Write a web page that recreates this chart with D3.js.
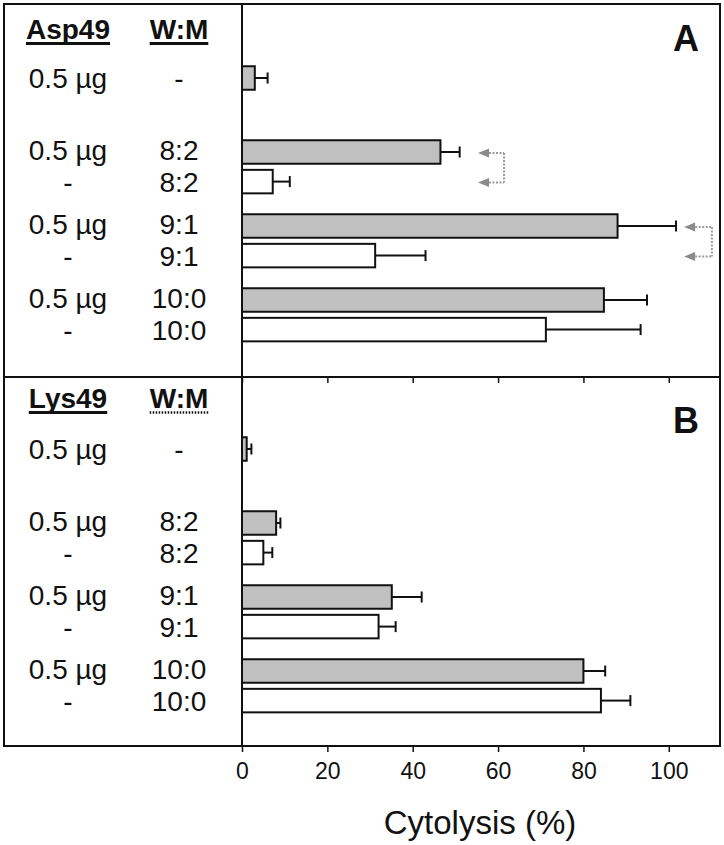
<!DOCTYPE html>
<html>
<head>
<meta charset="utf-8">
<script src="https://cdn.jsdelivr.net/npm/d3@7"></script>
<style>
  html, body { margin: 0; padding: 0; background: #fff; }
  svg { display: block; font-family: "Liberation Sans", Arial, sans-serif; }
</style>
</head>
<body>
<svg id="chart" width="724" height="845"></svg>
<script>
// ---- data ----
const toxinLabels = ["0.5 \u00B5g", "0.5 \u00B5g", "-", "0.5 \u00B5g", "-", "0.5 \u00B5g", "-"];
const wmLabels    = ["-", "8:2", "8:2", "9:1", "9:1", "10:0", "10:0"];
const groupIndex  = [0, 1, 1, 2, 2, 3, 3];
const withinGroup = [0, 0, 1, 0, 1, 0, 1];
const hasToxin    = [true, true, false, true, false, true, false];

const asp49Values = [3, 46.5, 7.2, 88, 31.2, 84.8, 71.2];
const asp49Errors = [3, 4.5, 4, 13.7, 11.8, 10.1, 22.2];
const lys49Values = [1.1, 8, 5, 35.1, 32, 80, 84.1];
const lys49Errors = [1.1, 1, 2.1, 7, 4, 5.1, 6.9];

const xTicks = [0, 20, 40, 60, 80, 100];
const panels = [
  { letter: "A", protein: "Asp49", values: asp49Values, errors: asp49Errors, dottedWM: false },
  { letter: "B", protein: "Lys49", values: lys49Values, errors: lys49Errors, dottedWM: true }
];
// comparison arrows in panel A: [row from, row to, x tip (data units), x bracket (data units)]
const arrowsA = [[1, 2, 55.3, 61.4], [3, 4, 103.6, 110.1]];

// ---- layout ----
const svg = d3.select("#chart");
const frameLeft = 4, plotLeft = 242, frameRight = 720, frameTop = 4;
const panelTops = [4, 377];
const panelBottoms = [377, 746];
const firstCenter = [78, 449];
const slotPitch = 29.6;
const barH = 23.5;

const x = d3.scaleLinear().domain([0, 112]).range([plotLeft, frameRight]);

panels.forEach((p, pi) => {
  const y = d3.scaleLinear().domain([0, 1]).range([firstCenter[pi], firstCenter[pi] + slotPitch]);
  const slot = i => 2.5 * groupIndex[i] + withinGroup[i];
  const g = svg.append("g");

  // bars
  g.selectAll("rect.bar").data(p.values).join("rect")
    .attr("class", "bar")
    .attr("x", x(0))
    .attr("y", (d, i) => y(slot(i)) - barH / 2)
    .attr("width", d => x(d) - x(0))
    .attr("height", barH)
    .attr("fill", (d, i) => hasToxin[i] ? "#c0c0c0" : "#ffffff")
    .attr("stroke", "#111")
    .attr("stroke-width", 2);

  // error bars
  p.values.forEach((v, i) => {
    const cy = y(slot(i));
    g.append("line").attr("x1", x(v)).attr("x2", x(v + p.errors[i]))
      .attr("y1", cy).attr("y2", cy).attr("stroke", "#111").attr("stroke-width", 2);
    g.append("line").attr("x1", x(v + p.errors[i])).attr("x2", x(v + p.errors[i]))
      .attr("y1", cy - 5.5).attr("y2", cy + 5.5).attr("stroke", "#111").attr("stroke-width", 2);
  });

  // left labels
  toxinLabels.forEach((t, i) => {
    const cy = y(slot(i)) + (withinGroup[i] === 0 && groupIndex[i] > 0 ? -2 : 0);
    g.append("text").attr("x", 68).attr("y", cy + 10).attr("text-anchor", "middle")
      .attr("font-size", 28).attr("fill", "#111").text(t);
    g.append("text").attr("x", 179).attr("y", cy + 10).attr("text-anchor", "middle")
      .attr("font-size", 28).attr("fill", "#111").text(wmLabels[i]);
  });

  // headers
  const hb = panelTops[pi] + 35 + (pi ? -4 : 0);
  const h1 = g.append("text").attr("x", 68).attr("y", hb).attr("text-anchor", "middle")
    .attr("font-size", 28).attr("font-weight", "bold").attr("fill", "#111").text(p.protein);
  const h2 = g.append("text").attr("x", 179).attr("y", hb).attr("text-anchor", "middle")
    .attr("font-size", 28).attr("font-weight", "bold").attr("fill", "#111").text("W:M");
  const b1 = h1.node().getBBox(), b2 = h2.node().getBBox();
  g.append("line").attr("x1", b1.x).attr("x2", b1.x + b1.width)
    .attr("y1", hb + 4.5).attr("y2", hb + 4.5).attr("stroke", "#111").attr("stroke-width", 3);
  g.append("line").attr("x1", b2.x).attr("x2", b2.x + b2.width)
    .attr("y1", hb + 4.5).attr("y2", hb + 4.5).attr("stroke", "#111")
    .attr("stroke-width", p.dottedWM ? 2.5 : 3)
    .attr("stroke-dasharray", p.dottedWM ? "1.5,1.5" : null);

  // panel letter
  g.append("text").attr("x", 686).attr("y", panelTops[pi] + 47 + (pi ? 9 : 0))
    .attr("text-anchor", "middle").attr("font-size", 36).attr("font-weight", "bold")
    .attr("fill", "#111").text(p.letter);

  // x axis at panel bottom
  const axis = d3.axisBottom(x).tickValues(xTicks).tickSize(6).tickSizeOuter(0)
    .tickFormat(pi === 1 ? d3.format("d") : () => "");
  const ax = svg.append("g").attr("transform", `translate(0,${panelBottoms[pi]})`).call(axis);
  ax.select(".domain").remove();
  ax.selectAll(".tick line").attr("stroke", "#111").attr("stroke-width", 1.5);
  ax.selectAll(".tick text").attr("font-size", 23).attr("fill", "#111")
    .attr("font-family", "Liberation Sans, Arial, sans-serif").attr("dy", "1.05em");

  // arrows
  if (pi === 0) {
    arrowsA.forEach(([r1, r2, tipV, brV]) => {
      const xt = x(tipV), xb = x(brV);
      [r1, r2].forEach(r => {
        const cy = y(slot(r)) + 1;
        g.append("path").attr("d", `M${xt},${cy} L${xt + 11},${cy - 4.5} L${xt + 11},${cy + 4.5} Z`)
          .attr("fill", "#8a8a8a");
        g.append("line").attr("x1", xt + 11).attr("x2", xb).attr("y1", cy).attr("y2", cy)
          .attr("stroke", "#9a9a9a").attr("stroke-width", 2).attr("stroke-dasharray", "2,1.5");
      });
      g.append("line").attr("x1", xb).attr("x2", xb)
        .attr("y1", y(slot(r1)) + 1).attr("y2", y(slot(r2)) + 1)
        .attr("stroke", "#9a9a9a").attr("stroke-width", 2).attr("stroke-dasharray", "2,1.5");
    });
  }
});

// frames
svg.append("rect").attr("x", frameLeft).attr("y", frameTop).attr("width", plotLeft - frameLeft)
  .attr("height", panelBottoms[1] - frameTop).attr("fill", "none").attr("stroke", "#111").attr("stroke-width", 2);
svg.append("rect").attr("x", plotLeft).attr("y", frameTop).attr("width", frameRight - plotLeft)
  .attr("height", panelBottoms[1] - frameTop).attr("fill", "none").attr("stroke", "#111").attr("stroke-width", 2);
svg.append("line").attr("x1", frameLeft).attr("x2", frameRight).attr("y1", panelBottoms[0]).attr("y2", panelBottoms[0])
  .attr("stroke", "#111").attr("stroke-width", 2);

// axis title
svg.append("text").attr("x", 480).attr("y", 834).attr("text-anchor", "middle")
  .attr("font-size", 33).attr("fill", "#111").text("Cytolysis (%)");
</script>
</body>
</html>
